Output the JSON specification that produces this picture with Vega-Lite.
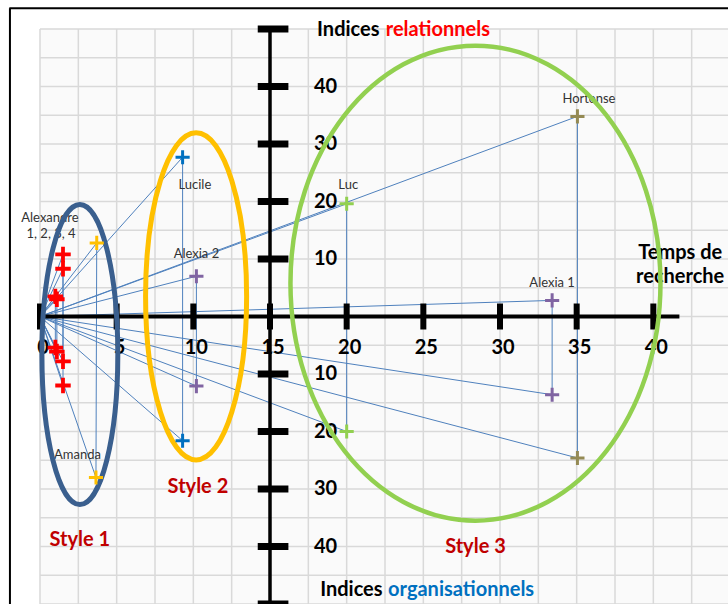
{
  "$schema": "https://vega.github.io/schema/vega-lite/v6.json",
  "width": 690,
  "height": 575,
  "autosize": {"type": "none"},
  "padding": {"left": 40, "top": 29, "right": 0, "bottom": 0},
  "background": "white",
  "config": {"view": {"stroke": null, "fill": "#fafafa"}, "font": "Lato"},
  "datasets": {
    "points": [
      {"person": "Alexandre 1", "group": "Alexandre", "x": 1.5, "y": 10.8},
      {"person": "Alexandre 1", "group": "Alexandre", "x": 1.5, "y": -12.0},
      {"person": "Alexandre 2", "group": "Alexandre", "x": 1.5, "y": 8.3},
      {"person": "Alexandre 2", "group": "Alexandre", "x": 1.5, "y": -7.8},
      {"person": "Alexandre 3", "group": "Alexandre", "x": 1.0, "y": 3.5},
      {"person": "Alexandre 3", "group": "Alexandre", "x": 1.0, "y": -5.4},
      {"person": "Alexandre 4", "group": "Alexandre", "x": 1.1, "y": 3.0},
      {"person": "Alexandre 4", "group": "Alexandre", "x": 1.1, "y": -6.1},
      {"person": "Amanda", "group": "Amanda", "x": 3.7, "y": 12.8},
      {"person": "Amanda", "group": "Amanda", "x": 3.65, "y": -28.0},
      {"person": "Lucile", "group": "Lucile", "x": 9.3, "y": 27.7},
      {"person": "Lucile", "group": "Lucile", "x": 9.3, "y": -21.6},
      {"person": "Alexia 2", "group": "Alexia", "x": 10.2, "y": 7.0},
      {"person": "Alexia 2", "group": "Alexia", "x": 10.2, "y": -12.1},
      {"person": "Luc", "group": "Luc", "x": 20.0, "y": 19.6},
      {"person": "Luc", "group": "Luc", "x": 20.0, "y": -20.0},
      {"person": "Alexia 1", "group": "Alexia", "x": 33.4, "y": 2.8},
      {"person": "Alexia 1", "group": "Alexia", "x": 33.4, "y": -13.6},
      {"person": "Hortense", "group": "Hortense", "x": 35.05, "y": 34.8},
      {"person": "Hortense", "group": "Hortense", "x": 35.05, "y": -24.6}
    ],
    "names": [
      {"text": "Alexandre", "x": 0.65, "y": 17.2},
      {"text": "1, 2, 3, 4", "x": 0.72, "y": 14.4},
      {"text": "Amanda", "x": 2.45, "y": -24.0},
      {"text": "Lucile", "x": 10.1, "y": 22.8},
      {"text": "Alexia 2", "x": 10.2, "y": 10.8},
      {"text": "Luc", "x": 20.1, "y": 22.9},
      {"text": "Hortense", "x": 35.8, "y": 37.9},
      {"text": "Alexia 1", "x": 33.4, "y": 5.9}
    ],
    "gridx": [{"v": 0}, {"v": 2.5}, {"v": 5}, {"v": 7.5}, {"v": 10}, {"v": 12.5}, {"v": 15}, {"v": 17.5}, {"v": 20}, {"v": 22.5}, {"v": 25}, {"v": 27.5}, {"v": 30}, {"v": 32.5}, {"v": 35}, {"v": 37.5}, {"v": 40}, {"v": 42.5}, {"v": 45}],
    "gridy": [{"v": -50}, {"v": -45}, {"v": -40}, {"v": -35}, {"v": -30}, {"v": -25}, {"v": -20}, {"v": -15}, {"v": -10}, {"v": -5}, {"v": 0}, {"v": 5}, {"v": 10}, {"v": 15}, {"v": 20}, {"v": 25}, {"v": 30}, {"v": 35}, {"v": 40}, {"v": 45}, {"v": 50}],
    "guides": [
      {"id": "xaxis", "x": 0, "x2": 41.7, "y": 0, "y2": 0},
      {"id": "yaxis", "x": 15, "x2": 15, "y": 50, "y2": -50},
      {"id": "frame", "x": -2.0, "x2": 46, "y": 53.6, "y2": 53.6},
      {"id": "frame", "x": -1.96, "x2": -1.96, "y": 53.6, "y2": -53}
    ],
    "xticks": [{"v": 0}, {"v": 5}, {"v": 10}, {"v": 15}, {"v": 20}, {"v": 25}, {"v": 30}, {"v": 35}, {"v": 40}],
    "yticks": [
      {"v": 50, "label": ""}, {"v": 40, "label": "40"}, {"v": 30, "label": "30"}, {"v": 20, "label": "20"}, {"v": 10, "label": "10"},
      {"v": -10, "label": "10"}, {"v": -20, "label": "20"}, {"v": -30, "label": "30"}, {"v": -40, "label": "40"}, {"v": -50, "label": ""}
    ],
    "ellipses": [
      {"style": "Style 1", "cx": 2.6, "cy": -6.6},
      {"style": "Style 2", "cx": 10.18, "cy": 3.5},
      {"style": "Style 3", "cx": 28.4, "cy": 5.8}
    ],
    "stylelabels": [
      {"text": "Style 1", "x": 2.6, "y": -38.8},
      {"text": "Style 2", "x": 10.3, "y": -29.6},
      {"text": "Style 3", "x": 28.4, "y": -40.0}
    ],
    "titles": [
      {"part": "black", "text": "Indices", "x": 18.07, "y": 49.9},
      {"part": "red", "text": "relationnels", "x": 22.55, "y": 49.9},
      {"part": "black", "text": "Indices", "x": 18.27, "y": -47.5},
      {"part": "blue", "text": "organisationnels", "x": 22.7, "y": -47.5}
    ],
    "xtitle": [
      {"text": "Temps de", "x": 41.75, "y": 11.1},
      {"text": "recherche", "x": 41.75, "y": 6.8}
    ]
  },
  "layer": [
    {
      "data": {"name": "gridx"},
      "mark": {"type": "rule", "color": "#d9d9d9", "strokeWidth": 1.5},
      "encoding": {
        "x": {"field": "v", "type": "quantitative", "scale": {"domain": [0, 45]}, "axis": null},
        "y": {"datum": -50, "type": "quantitative", "scale": {"domain": [-50, 50]}, "axis": null},
        "y2": {"datum": 50}
      }
    },
    {
      "data": {"name": "gridy"},
      "mark": {"type": "rule", "color": "#d9d9d9", "strokeWidth": 1.5},
      "encoding": {
        "y": {"field": "v", "type": "quantitative", "axis": null},
        "x": {"datum": 0, "type": "quantitative", "axis": null},
        "x2": {"datum": 45}
      }
    },
    {
      "data": {"name": "points"},
      "mark": {"type": "line", "color": "#4F81BD", "strokeWidth": 1},
      "encoding": {
        "x": {"field": "x", "type": "quantitative", "axis": null},
        "y": {"field": "y", "type": "quantitative", "axis": null},
        "detail": {"field": "person", "type": "nominal"},
        "order": {"field": "y", "type": "quantitative"}
      }
    },
    {
      "data": {"name": "points"},
      "mark": {"type": "rule", "color": "#4F81BD", "strokeWidth": 1},
      "encoding": {
        "x": {"field": "x", "type": "quantitative", "axis": null},
        "y": {"field": "y", "type": "quantitative", "axis": null},
        "x2": {"datum": 0},
        "y2": {"datum": 0}
      }
    },
    {
      "data": {"name": "guides"},
      "transform": [{"filter": "datum.id === 'xaxis'"}],
      "mark": {"type": "rule", "color": "black", "strokeWidth": 4},
      "encoding": {
        "x": {"field": "x", "type": "quantitative", "axis": null},
        "x2": {"field": "x2"},
        "y": {"field": "y", "type": "quantitative", "axis": null},
        "y2": {"field": "y2"}
      }
    },
    {
      "data": {"name": "guides"},
      "transform": [{"filter": "datum.id === 'yaxis'"}],
      "mark": {"type": "rule", "color": "black", "strokeWidth": 3.5},
      "encoding": {
        "x": {"field": "x", "type": "quantitative", "axis": null},
        "x2": {"field": "x2"},
        "y": {"field": "y", "type": "quantitative", "axis": null},
        "y2": {"field": "y2"}
      }
    },
    {
      "data": {"name": "xticks"},
      "mark": {"type": "rule", "color": "black", "strokeWidth": 6},
      "encoding": {
        "x": {"field": "v", "type": "quantitative", "axis": null},
        "y": {"datum": -2.26, "type": "quantitative", "axis": null},
        "y2": {"datum": 2.26}
      }
    },
    {
      "data": {"name": "yticks"},
      "mark": {"type": "rule", "color": "black", "strokeWidth": 7},
      "encoding": {
        "x": {"datum": 14.2, "type": "quantitative", "axis": null},
        "x2": {"datum": 16.2},
        "y": {"field": "v", "type": "quantitative", "axis": null}
      }
    },
    {
      "data": {"name": "xticks"},
      "mark": {"type": "text", "font": "Lato", "fontWeight": "bold", "fontSize": 20, "color": "black", "dx": 3, "dy": 31, "baseline": "middle", "align": "center"},
      "encoding": {
        "x": {"field": "v", "type": "quantitative", "axis": null},
        "y": {"datum": 0, "type": "quantitative", "axis": null},
        "text": {"field": "v", "type": "quantitative"}
      }
    },
    {
      "data": {"name": "yticks"},
      "mark": {"type": "text", "font": "Lato", "fontWeight": "bold", "fontSize": 20, "color": "black", "dx": 44, "baseline": "middle", "align": "left"},
      "encoding": {
        "x": {"datum": 15, "type": "quantitative", "axis": null},
        "y": {"field": "v", "type": "quantitative", "axis": null},
        "text": {"field": "label", "type": "nominal"}
      }
    },
    {
      "data": {"name": "names"},
      "mark": {"type": "text", "font": "Lato", "fontSize": 13, "color": "#333333", "baseline": "middle", "align": "center"},
      "encoding": {
        "x": {"field": "x", "type": "quantitative", "axis": null},
        "y": {"field": "y", "type": "quantitative", "axis": null},
        "text": {"field": "text", "type": "nominal"}
      }
    },
    {
      "data": {"name": "titles"},
      "transform": [{"filter": "datum.part === 'black'"}],
      "mark": {"type": "text", "font": "Lato", "fontWeight": "bold", "fontSize": 20, "color": "#000000", "baseline": "middle", "align": "left"},
      "encoding": {
        "x": {"field": "x", "type": "quantitative", "axis": null},
        "y": {"field": "y", "type": "quantitative", "axis": null},
        "text": {"field": "text", "type": "nominal"}
      }
    },
    {
      "data": {"name": "titles"},
      "transform": [{"filter": "datum.part === 'red'"}],
      "mark": {"type": "text", "font": "Lato", "fontWeight": "bold", "fontSize": 20, "color": "#FF0000", "baseline": "middle", "align": "left"},
      "encoding": {
        "x": {"field": "x", "type": "quantitative", "axis": null},
        "y": {"field": "y", "type": "quantitative", "axis": null},
        "text": {"field": "text", "type": "nominal"}
      }
    },
    {
      "data": {"name": "titles"},
      "transform": [{"filter": "datum.part === 'blue'"}],
      "mark": {"type": "text", "font": "Lato", "fontWeight": "bold", "fontSize": 20, "color": "#0070C0", "baseline": "middle", "align": "left"},
      "encoding": {
        "x": {"field": "x", "type": "quantitative", "axis": null},
        "y": {"field": "y", "type": "quantitative", "axis": null},
        "text": {"field": "text", "type": "nominal"}
      }
    },
    {
      "data": {"name": "xtitle"},
      "mark": {"type": "text", "font": "Lato", "fontWeight": "bold", "fontSize": 20, "color": "black", "baseline": "middle", "align": "center"},
      "encoding": {
        "x": {"field": "x", "type": "quantitative", "axis": null},
        "y": {"field": "y", "type": "quantitative", "axis": null},
        "text": {"field": "text", "type": "nominal"}
      }
    },
    {
      "data": {"name": "stylelabels"},
      "mark": {"type": "text", "font": "Lato", "fontWeight": "bold", "fontSize": 20, "color": "#C00000", "baseline": "middle", "align": "center"},
      "encoding": {
        "x": {"field": "x", "type": "quantitative", "axis": null},
        "y": {"field": "y", "type": "quantitative", "axis": null},
        "text": {"field": "text", "type": "nominal"}
      }
    },
    {
      "data": {"name": "ellipses"},
      "transform": [{"filter": "datum.style === 'Style 1'"}],
      "mark": {"type": "point", "filled": false, "clip": false, "color": "#3A5F8E", "strokeWidth": 5, "opacity": 1, "size": 90000,
        "shape": "M 0.253 0 C 0.253 0.5523 0.1397 1 0 1 C -0.1397 1 -0.253 0.5523 -0.253 0 C -0.253 -0.5523 -0.1397 -1 0 -1 C 0.1397 -1 0.253 -0.5523 0.253 0 Z"},
      "encoding": {
        "x": {"field": "cx", "type": "quantitative", "axis": null},
        "y": {"field": "cy", "type": "quantitative", "axis": null}
      }
    },
    {
      "data": {"name": "ellipses"},
      "transform": [{"filter": "datum.style === 'Style 2'"}],
      "mark": {"type": "point", "filled": false, "clip": false, "color": "#FFC000", "strokeWidth": 5, "opacity": 1, "size": 106929,
        "shape": "M 0.309 0 C 0.309 0.5523 0.1707 1 0 1 C -0.1707 1 -0.309 0.5523 -0.309 0 C -0.309 -0.5523 -0.1707 -1 0 -1 C 0.1707 -1 0.309 -0.5523 0.309 0 Z"},
      "encoding": {
        "x": {"field": "cx", "type": "quantitative", "axis": null},
        "y": {"field": "cy", "type": "quantitative", "axis": null}
      }
    },
    {
      "data": {"name": "ellipses"},
      "transform": [{"filter": "datum.style === 'Style 3'"}],
      "mark": {"type": "point", "filled": false, "clip": false, "color": "#92D050", "strokeWidth": 4.5, "opacity": 1, "size": 225625,
        "shape": "M 0.779 0 C 0.779 0.5523 0.4302 1 0 1 C -0.4302 1 -0.779 0.5523 -0.779 0 C -0.779 -0.5523 -0.4302 -1 0 -1 C 0.4302 -1 0.779 -0.5523 0.779 0 Z"},
      "encoding": {
        "x": {"field": "cx", "type": "quantitative", "axis": null},
        "y": {"field": "cy", "type": "quantitative", "axis": null}
      }
    },
    {
      "data": {"name": "points"},
      "transform": [{"filter": "datum.group !== 'Alexandre'"}],
      "mark": {"type": "point", "filled": false, "opacity": 1, "strokeWidth": 3, "size": 200, "shape": "M -1 0 L 1 0 M 0 -1 L 0 1"},
      "encoding": {
        "x": {"field": "x", "type": "quantitative", "axis": null},
        "y": {"field": "y", "type": "quantitative", "axis": null},
        "color": {"field": "group", "type": "nominal",
          "scale": {"domain": ["Alexandre", "Amanda", "Lucile", "Alexia", "Luc", "Hortense"],
            "range": ["#FF0000", "#FFC000", "#0070C0", "#8064A2", "#92D050", "#948A54"]}, "legend": null}
      }
    },
    {
      "data": {"name": "points"},
      "transform": [{"filter": "datum.group === 'Alexandre'"}],
      "mark": {"type": "point", "filled": false, "opacity": 1, "strokeWidth": 3.8, "size": 240, "shape": "M -1 0 L 1 0 M 0 -1 L 0 1"},
      "encoding": {
        "x": {"field": "x", "type": "quantitative", "axis": null},
        "y": {"field": "y", "type": "quantitative", "axis": null},
        "color": {"field": "group", "type": "nominal", "legend": null}
      }
    },
    {
      "data": {"name": "guides"},
      "transform": [{"filter": "datum.id === 'frame'"}],
      "mark": {"type": "rule", "color": "black", "strokeWidth": 2, "clip": false},
      "encoding": {
        "x": {"field": "x", "type": "quantitative", "axis": null},
        "x2": {"field": "x2"},
        "y": {"field": "y", "type": "quantitative", "axis": null},
        "y2": {"field": "y2"}
      }
    }
  ]
}
